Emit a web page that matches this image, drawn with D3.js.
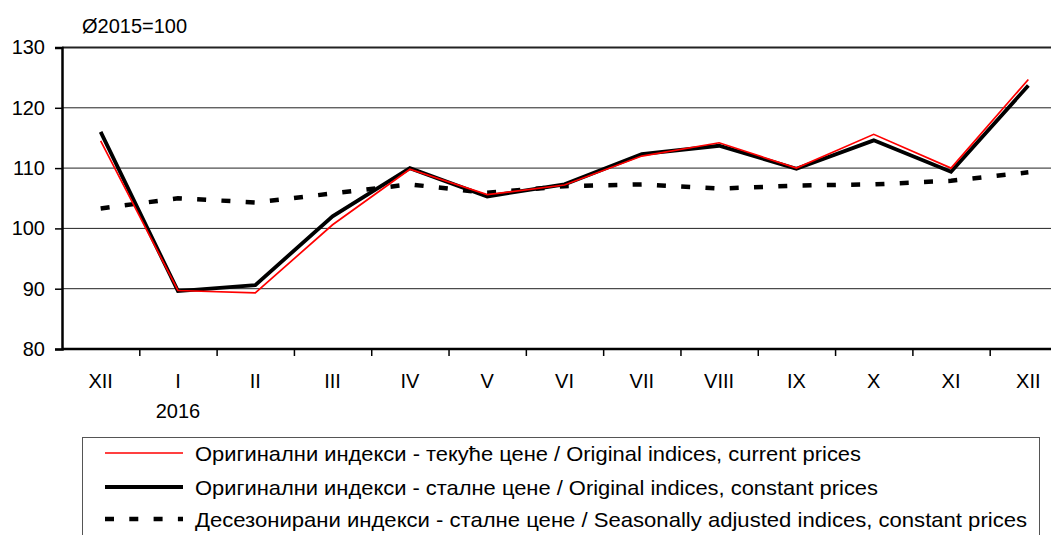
<!DOCTYPE html>
<html>
<head>
<meta charset="utf-8">
<script src="https://cdn.jsdelivr.net/npm/d3@7"></script>
<style>
  body { margin: 0; background: #fff; }
  text { font-family: "Liberation Sans", Arial, sans-serif; fill: #000; }
</style>
</head>
<body>
<div id="chart"></div>
<script>
// data
var months = ["XII", "I", "II", "III", "IV", "V", "VI", "VII", "VIII", "IX", "X", "XI", "XII"];
var current = [114.5, 89.7, 89.3, 100.6, 109.8, 105.6, 107.2, 112.0, 114.2, 110.0, 115.6, 110.0, 124.7];
var constant = [116.0, 89.6, 90.6, 102.0, 110.0, 105.3, 107.3, 112.3, 113.7, 109.9, 114.6, 109.4, 123.7];
var adjusted = [103.3, 105.0, 104.3, 105.8, 107.3, 105.9, 107.0, 107.3, 106.6, 107.1, 107.3, 107.9, 109.3];
var yTicks = [80, 90, 100, 110, 120, 130];
var legendLabels = [
  "Оригинални индекси - текуће цене / Original indices, current prices",
  "Оригинални индекси - сталне цене / Original indices, constant prices",
  "Десезонирани индекси - сталне цене / Seasonally adjusted indices, constant prices"
];

var W = 1051, H = 535;
// plot area (runs off the right edge like the original)
var pLeft = 62, pRight = 1067, pTop = 47.5, pBottom = 349;

var svg = d3.select("#chart")
  .append("svg")
    .attr("width", W)
    .attr("height", H);

// scales - one slot per month
var x = d3.scaleLinear().domain([0, months.length]).range([pLeft, pRight]);
var y = d3.scaleLinear().domain([80, 130]).range([pBottom, pTop]);

// gridlines
svg.append("g")
  .selectAll("line")
  .data(yTicks.filter(function(d) { return d > 80; }))
  .enter().append("line")
    .attr("x1", pLeft).attr("x2", pRight)
    .attr("y1", function(d) { return y(d); })
    .attr("y2", function(d) { return y(d); })
    .attr("stroke", "#222")
    .attr("stroke-width", function(d) { return d == 130 ? 2 : 1; });

// y axis
var yAxis = svg.append("g")
  .attr("transform", "translate(" + pLeft + ",0)")
  .call(d3.axisLeft(y).tickValues(yTicks).tickSize(7).tickPadding(10));
yAxis.select(".domain").attr("stroke-width", 2.5);
yAxis.selectAll(".tick line").attr("stroke-width", 1.5);
yAxis.selectAll(".tick text")
  .style("font-size", "20px")
  .attr("font-family", null);

// x axis, ticks between the months
var xAxis = svg.append("g")
  .attr("transform", "translate(0," + pBottom + ")")
  .call(d3.axisBottom(x).tickValues(d3.range(1, months.length)).tickSize(7).tickFormat(""));
xAxis.select(".domain").attr("stroke-width", 2.5).attr("d", "M" + pLeft + ",0H" + pRight);
xAxis.selectAll(".tick line").attr("stroke-width", 1.5);

svg.append("g")
  .selectAll("text")
  .data(months)
  .enter().append("text")
    .attr("x", function(d, i) { return x(i + 0.5); })
    .attr("y", 388)
    .attr("text-anchor", "middle")
    .style("font-size", "20px")
    .text(function(d) { return d; });

svg.append("text")
  .attr("x", x(1.5))
  .attr("y", 418)
  .attr("text-anchor", "middle")
  .style("font-size", "20px")
  .text("2016");

svg.append("text")
  .attr("x", 82)
  .attr("y", 33)
  .style("font-size", "20px")
  .text("Ø2015=100");

// lines
var line = d3.line()
  .x(function(d, i) { return x(i + 0.5); })
  .y(function(d) { return y(d); });

svg.append("path")
  .datum(adjusted)
  .attr("d", line)
  .attr("fill", "none")
  .attr("stroke", "#000")
  .attr("stroke-width", 4.5)
  .attr("stroke-dasharray", "9,15.3");

svg.append("path")
  .datum(constant)
  .attr("d", line)
  .attr("fill", "none")
  .attr("stroke", "#000")
  .attr("stroke-width", 3.8);

svg.append("path")
  .datum(current)
  .attr("d", line)
  .attr("fill", "none")
  .attr("stroke", "#ff0000")
  .attr("stroke-width", 1.7);

// legend
svg.append("rect")
  .attr("x", 82.5).attr("y", 437.5)
  .attr("width", 957).attr("height", 120)
  .attr("fill", "none")
  .attr("stroke", "#555")
  .attr("stroke-width", 1);

var legendStyle = [
  {stroke: "#ff0000", width: 1.7, dash: null, y: 453, len: 666},
  {stroke: "#000", width: 3.8, dash: null, y: 487, len: 683},
  {stroke: "#000", width: 4.5, dash: "9,15.3", y: 519, len: 832}
];

var items = svg.append("g")
  .selectAll("g")
  .data(legendLabels)
  .enter().append("g");

items.append("line")
  .attr("x1", 105).attr("x2", 183)
  .attr("y1", function(d, i) { return legendStyle[i].y; })
  .attr("y2", function(d, i) { return legendStyle[i].y; })
  .attr("stroke", function(d, i) { return legendStyle[i].stroke; })
  .attr("stroke-width", function(d, i) { return legendStyle[i].width; })
  .attr("stroke-dasharray", function(d, i) { return legendStyle[i].dash; });

items.append("text")
  .attr("x", 195)
  .attr("y", function(d, i) { return legendStyle[i].y + 8; })
  .attr("textLength", function(d, i) { return legendStyle[i].len; })
  .attr("lengthAdjust", "spacingAndGlyphs")
  .style("font-size", "21px")
  .text(function(d) { return d; });
</script>
</body>
</html>
